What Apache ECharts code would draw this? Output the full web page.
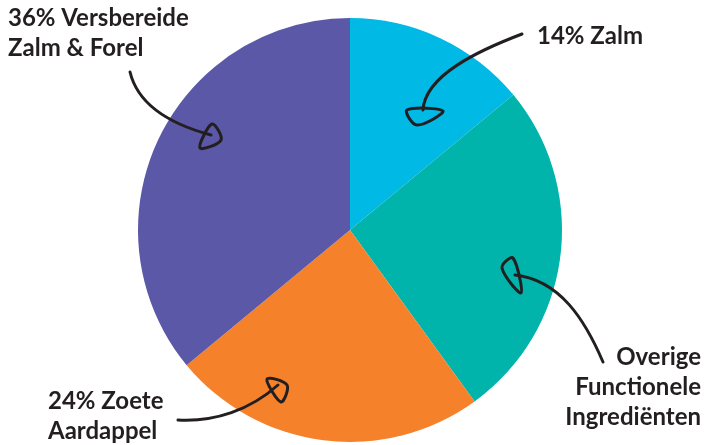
<!DOCTYPE html>
<html><head><meta charset="utf-8">
<script src="https://cdn.jsdelivr.net/npm/echarts@6/dist/echarts.min.js"></script>
<style>html,body{margin:0;padding:0;background:#fff}#c{width:705px;height:445px}</style>
</head><body><div id="c"></div>
<script>
const categories = ['14% Zalm', 'Overige\nFunctionele\nIngrediënten', '24% Zoete\nAardappel', '36% Versbereide\nZalm & Forel'];
const values = [14, 26, 24, 36];
const colors = ['#00B9E4', '#00B4AC', '#F5822B', '#5B58A7'];
// label anchor placement (layout only)
const labelPos = [
  {x: 537, y: 36, align: 'left', verticalAlign: 'middle'},
  {x: 701, y: 387, align: 'right', verticalAlign: 'middle'},
  {x: 48, y: 416, align: 'left', verticalAlign: 'middle'},
  {x: 8, y: 33, align: 'left', verticalAlign: 'middle'}
];
const ink = '#231F20';
const arrowStyle = {stroke: ink, lineWidth: 3, fill: 'none', lineCap: 'round', lineJoin: 'round'};
function curve(x1,y1,c1x,c1y,c2x,c2y,x2,y2){
  return {type:'bezierCurve', silent:true, z:10, shape:{x1,y1,cpx1:c1x,cpy1:c1y,cpx2:c2x,cpy2:c2y,x2,y2}, style:arrowStyle};
}
function head(pts){
  return {type:'polygon', silent:true, z:10, shape:{points:pts, smooth:0.35}, style:arrowStyle};
}
const chart = echarts.init(document.getElementById('c'), null, {renderer:'canvas'});
chart.setOption({
  animation: false,
  series: [{
    type: 'pie',
    center: [350, 230],
    radius: [0, 212],
    startAngle: 90,
    clockwise: true,
    silent: true,
    data: categories.map((n,i)=>({name:n, value:values[i], itemStyle:{color:colors[i]}})),
    label: {
      show: true, position: 'outside', formatter: '{b}', overflow: 'none', width: 300,
      fontFamily: 'Lato', fontWeight: 'bold', fontSize: 24, color: ink, lineHeight: 30
    },
    labelLine: {show: false},
    labelLayout: function(p){ return labelPos[p.dataIndex]; }
  }],
  graphic: [
    curve(130,72, 138,105, 170,124, 211,135),
    head([[212,124],[221,140],[200,148]]),
    curve(522,34, 480,50, 425,75, 423,110),
    head([[407,110],[443,111],[417,125]]),
    curve(603,362, 585,320, 560,280, 515,275),
    head([[513,258],[502,268],[521,293]]),
    curve(178,420, 215,422, 250,410, 278,385),
    head([[267,379],[287,385],[281,402]])
  ]
});
</script></body></html>
